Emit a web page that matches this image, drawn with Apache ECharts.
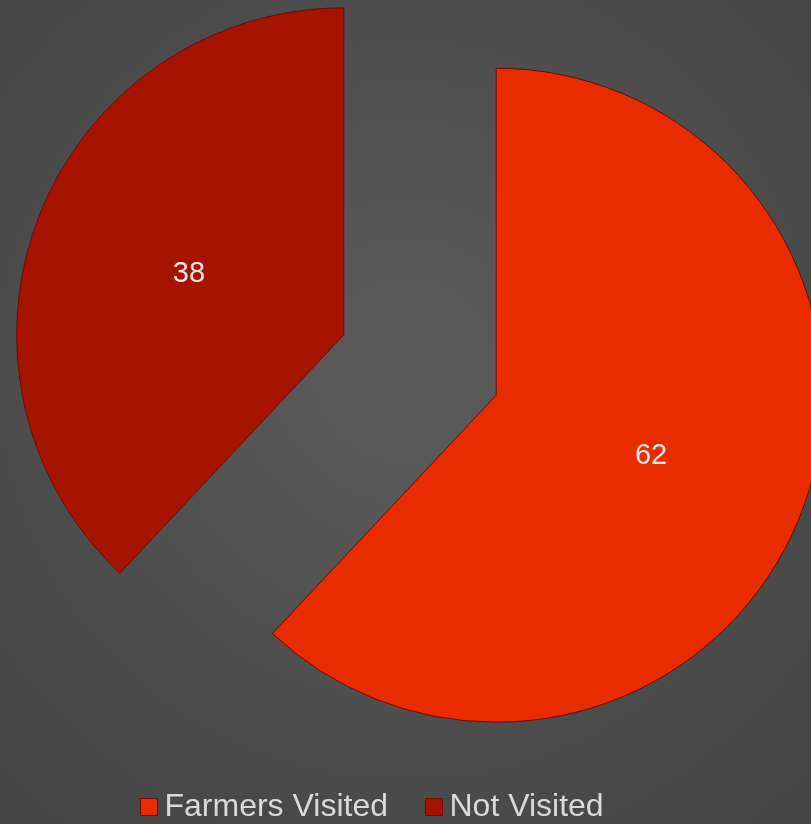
<!DOCTYPE html>
<html>
<head>
<meta charset="utf-8">
<script src="https://cdn.jsdelivr.net/npm/echarts@6/dist/echarts.min.js"></script>
<style>
    html, body { margin: 0; padding: 0; }
    #chart { width: 811px; height: 824px; }
</style>
</head>
<body>
<div id="chart"></div>
<script>
let categories = ['Farmers Visited', 'Not Visited'];
let values = [62, 38];
let colors = ['#e82c00', '#a61400'];

let chart = echarts.init(document.getElementById('chart'));

let data = categories.map((name, i) => {
    return {
        name: name,
        value: values[i],
        selected: true,
        itemStyle: { color: colors[i] }
    };
});

let option = {
    backgroundColor: {
        type: 'radial',
        x: 0.5, y: 0.45, r: 0.75,
        colorStops: [
            { offset: 0, color: '#5c5c5c' },
            { offset: 1, color: '#434343' }
        ]
    },
    animation: false,
    legend: {
        bottom: -4,
        left: 135,
        itemWidth: 17,
        itemHeight: 17,
        itemGap: 37,
        icon: 'rect',
        textStyle: {
            color: '#d9d9d9',
            fontSize: 32,
            fontFamily: 'Liberation Sans',
            padding: [0, 0, 0, 2]
        },
        itemStyle: { borderColor: '#6a0e00', borderWidth: 1 },
        data: categories
    },
    series: [
        {
            type: 'pie',
            center: [420, 365],
            radius: 327,
            startAngle: 90,
            selectedMode: 'multiple',
            selectedOffset: 82,
            avoidLabelOverlap: false,
            itemStyle: {
                borderColor: '#6a0e00',
                borderWidth: 1
            },
            label: {
                show: true,
                position: 'inside',
                formatter: '{c}',
                color: '#e6e6e6',
                fontSize: 29,
                fontFamily: 'Liberation Sans',
                offset: [2, 4]
            },
            labelLine: { show: false },
            emphasis: { scale: false },
            data: data
        }
    ]
};

chart.setOption(option);
</script>
</body>
</html>
